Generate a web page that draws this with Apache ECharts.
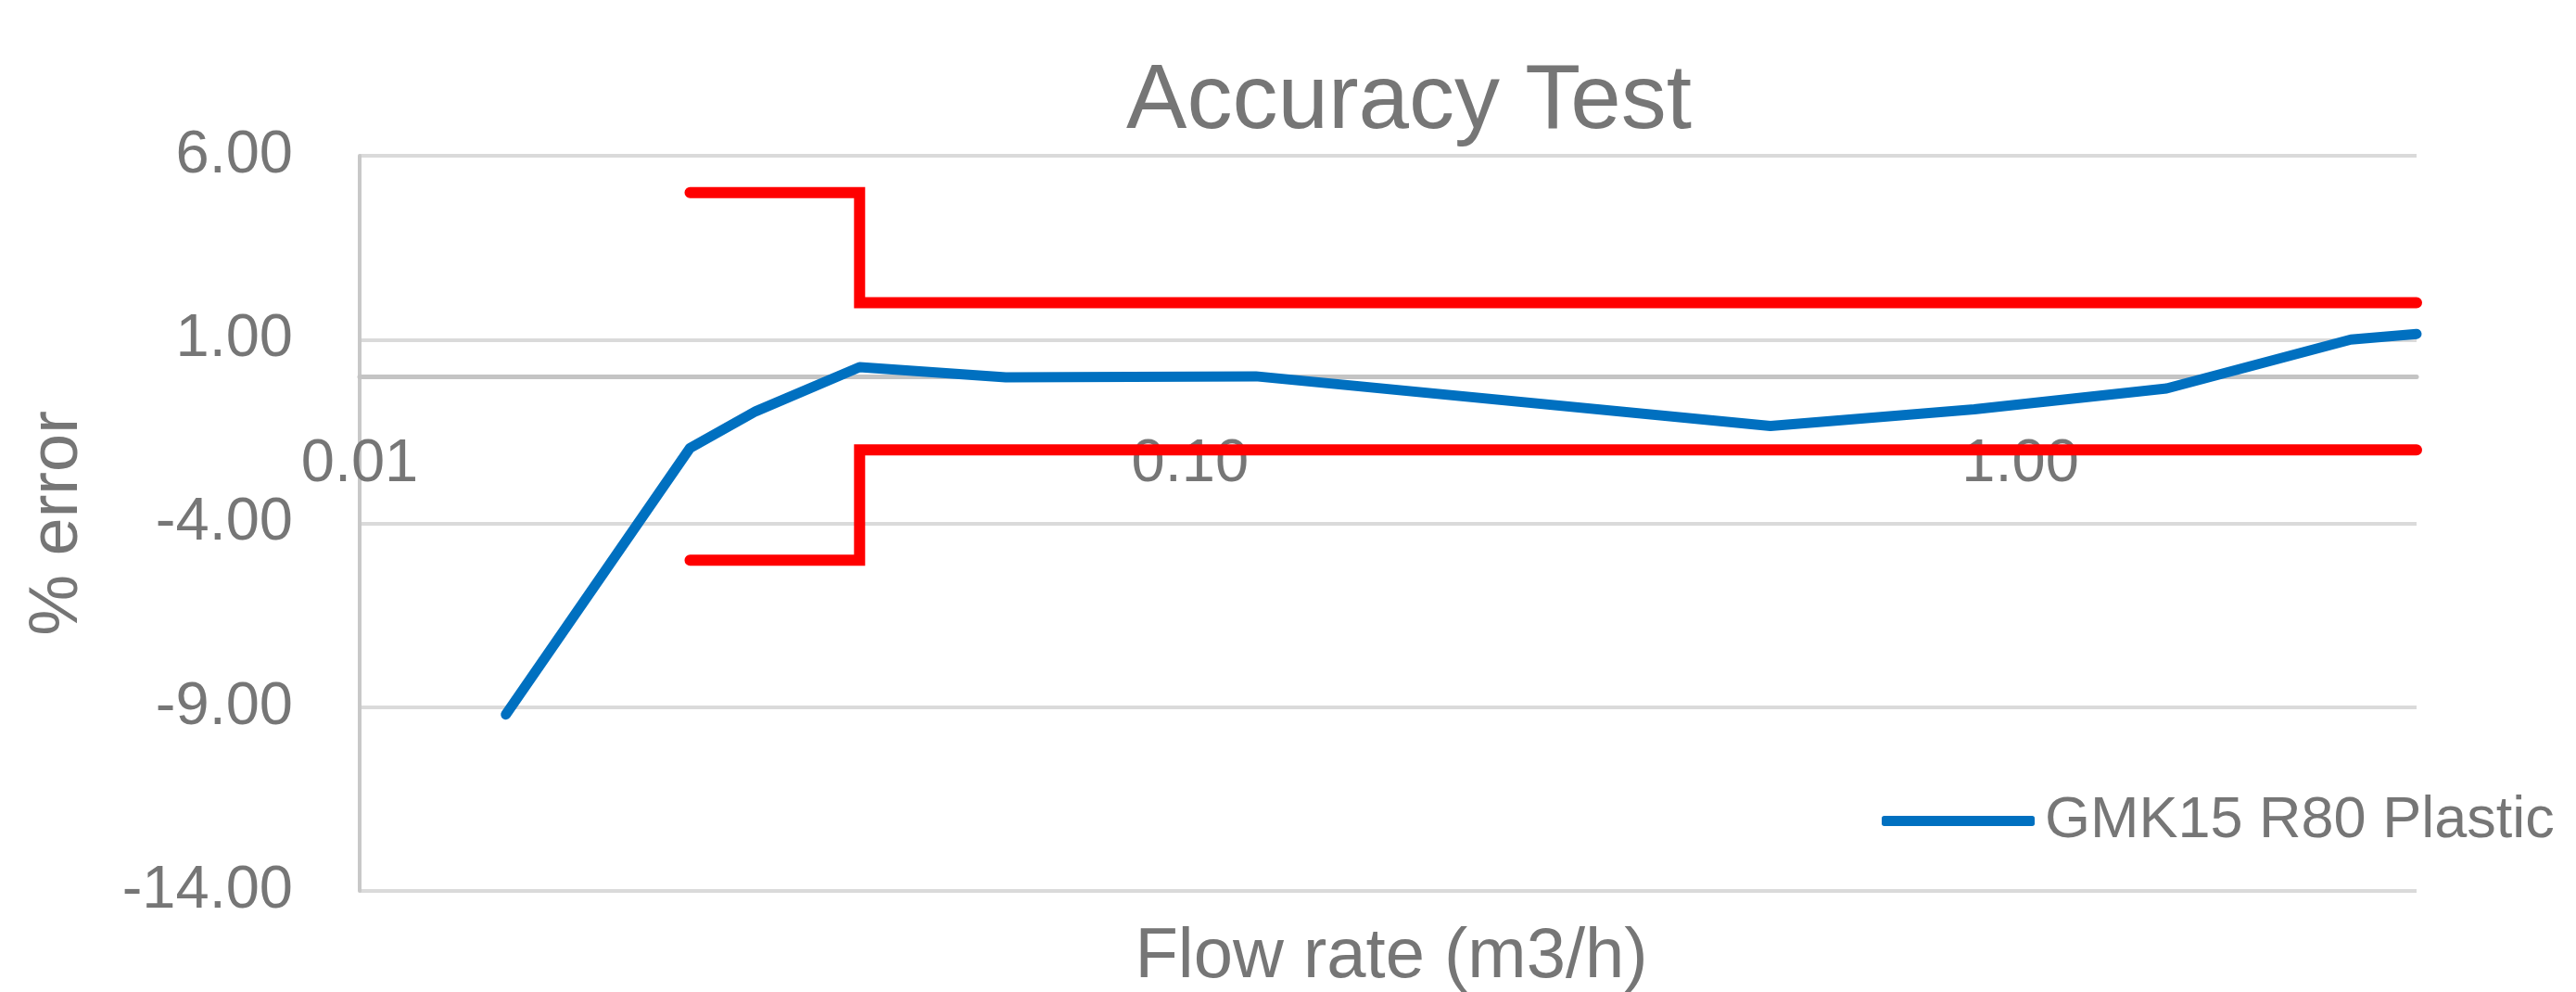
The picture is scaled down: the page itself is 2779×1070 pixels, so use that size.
<!DOCTYPE html>
<html>
<head>
<meta charset="utf-8">
<title>Accuracy Test</title>
<script src="https://cdn.jsdelivr.net/npm/echarts@6/dist/echarts.min.js"></script>
<style>
  html, body { margin: 0; padding: 0; background: #fff; }
  #chart { width: 2779px; height: 1070px; }
</style>
</head>
<body>
<div id="chart"></div>
<script>
// measured points (flow rate m3/h, % error)
const flowRate = [0.015, 0.025, 0.03, 0.04, 0.06, 0.12, 0.5, 0.88, 1.5, 2.5, 3];
const errorPct = [-9.2, -1.95, -0.95, 0.25, -0.03, 0.0, -1.35, -0.9, -0.33, 1.0, 1.15];

// permitted error band (step at transitional flow)
const limitX = [0.025, 0.04, 0.04, 3];
const upperLimit = [5, 5, 2, 2];
const lowerLimit = [-5, -5, -2, -2];

const seriesName = 'GMK15 R80 Plastic';
const yTicks = { min: -14, max: 6, interval: 5 };
const xRange = { min: 0.01, max: 3 };

const textColor = '#767676';
const font = '"Liberation Sans", Arial, sans-serif';

// grid box in px
const gridTop = 168;
const gridBottom = 109;
const gridHeight = 1070 - gridTop - gridBottom;

function pairs(xs, ys) {
  return xs.map((x, i) => [x, ys[i]]);
}

function init() {
  const mychart = echarts.init(document.getElementById('chart'));

  // x axis crosses the y axis at 0 -> shift it up from the bottom of the grid
  const zeroOffset = gridHeight * (0 - yTicks.min) / (yTicks.max - yTicks.min);

  let option = {
    animation: false,
    textStyle: { fontFamily: font, color: textColor },
    title: [
      {
        text: 'Accuracy Test',
        left: 1515,
        top: 57,
        textAlign: 'center',
        textStyle: { fontFamily: font, fontSize: 98, fontWeight: 'normal', color: textColor }
      },
      {
        // x axis name sits at the bottom, not on the zero line
        text: 'Flow rate (m3/h)',
        left: 1496,
        top: 990,
        textAlign: 'center',
        textStyle: { fontFamily: font, fontSize: 76, fontWeight: 'normal', color: textColor }
      }
    ],
    legend: {
      data: [seriesName],
      left: 2025,
      top: 849,
      icon: 'roundRect',
      itemWidth: 165,
      itemHeight: 11,
      textStyle: { fontFamily: font, fontSize: 63, color: textColor, padding: [0, 0, 0, 6] }
    },
    grid: {
      left: 388,
      right: 172,
      top: gridTop,
      bottom: gridBottom,
      outerBoundsMode: 'none'
    },
    xAxis: {
      type: 'log',
      logBase: 10,
      min: xRange.min,
      max: xRange.max,
      position: 'bottom',
      offset: -zeroOffset,
      axisLine: { onZero: false, lineStyle: { color: '#c4c4c4', width: 5 } },
      axisTick: { show: false },
      splitLine: { show: false },
      axisLabel: {
        showMaxLabel: false,
        margin: 63,
        fontFamily: font,
        fontSize: 65,
        color: textColor,
        formatter(val) {
          return Number(val).toFixed(2);
        }
      }
    },
    yAxis: {
      type: 'value',
      min: yTicks.min,
      max: yTicks.max,
      interval: yTicks.interval,
      name: '% error',
      nameLocation: 'middle',
      nameGap: 288,
      nameTextStyle: { fontFamily: font, fontSize: 74, color: textColor },
      axisLine: { show: true, onZero: false, lineStyle: { color: '#c8c8c8', width: 4 } },
      axisTick: { show: false },
      splitLine: { lineStyle: { color: '#dadada', width: 4 } },
      axisLabel: {
        margin: 72,
        fontFamily: font,
        fontSize: 65,
        color: textColor,
        formatter(val) {
          return val.toFixed(2);
        }
      }
    },
    series: [
      {
        name: 'upper limit',
        type: 'line',
        symbol: 'none',
        clip: false,
        color: '#ff0000',
        lineStyle: { width: 12, cap: 'round', join: 'miter' },
        data: pairs(limitX, upperLimit)
      },
      {
        name: 'lower limit',
        type: 'line',
        symbol: 'none',
        clip: false,
        color: '#ff0000',
        lineStyle: { width: 12, cap: 'round', join: 'miter' },
        data: pairs(limitX, lowerLimit)
      },
      {
        name: seriesName,
        type: 'line',
        symbol: 'none',
        clip: false,
        color: '#0070c0',
        z: 3,
        lineStyle: { width: 11, cap: 'round', join: 'round' },
        data: pairs(flowRate, errorPct)
      }
    ]
  };

  mychart.setOption(option, true);
}

init();
</script>
</body>
</html>
